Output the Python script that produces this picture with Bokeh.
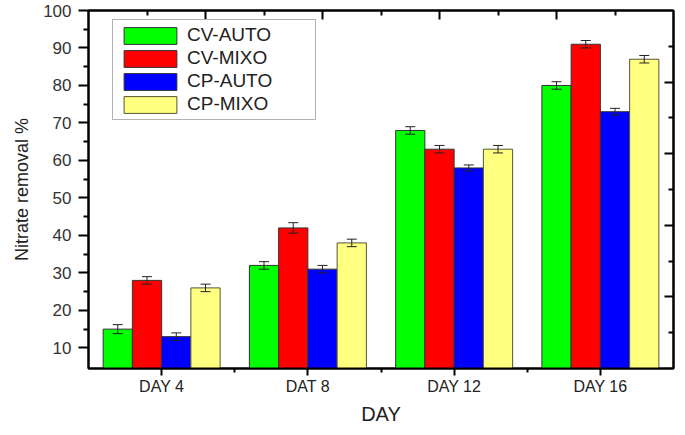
import numpy as np
from bokeh.plotting import figure
from bokeh.models import (ColumnDataSource, Range1d, LinearAxis, FixedTicker,
                          Whisker, TeeHead, Legend, LegendItem)
from bokeh.embed import file_html
from bokeh.resources import INLINE

# ---- data ----
days = ["DAY 4", "DAT 8", "DAY 12", "DAY 16"]
series_names = ["CV-AUTO", "CV-MIXO", "CP-AUTO", "CP-MIXO"]
cv_auto = [15, 32, 68, 80]
cv_mixo = [28, 42, 63, 91]
cp_auto = [13, 31, 58, 73]
cp_mixo = [26, 38, 63, 87]
cv_auto_err = [1.2, 1.0, 1.0, 1.0]
cv_mixo_err = [1.0, 1.4, 1.0, 1.0]
cp_auto_err = [1.0, 1.0, 0.8, 0.9]
cp_mixo_err = [1.0, 1.0, 1.0, 1.0]
y_ticks = [10, 20, 30, 40, 50, 60, 70, 80, 90, 100]
y_minor_ticks = [15, 25, 35, 45, 55, 65, 75, 85, 95]

values = [cv_auto, cv_mixo, cp_auto, cp_mixo]
errors = [cv_auto_err, cv_mixo_err, cp_auto_err, cp_mixo_err]
colors = ["#00ff00", "#ff0000", "#0000ff", "#ffff80"]
outlines = ["#333333", "#333333", "#333333", "#555533"]
offsets = [-0.3, -0.1, 0.1, 0.3]

FONT = "Liberation Sans"
TXT = "#222222"

p = figure(width=677, height=427,
           x_range=Range1d(0.5, 4.5), y_range=Range1d(4.5, 100),
           output_backend="svg", toolbar_location=None,
           min_border_left=88, min_border_right=4,
           min_border_top=10, min_border_bottom=58,
           background_fill_color="white", border_fill_color="white")
p.xgrid.visible = False
p.ygrid.visible = False
p.outline_line_color = "black"
p.outline_line_width = 2

idx = np.arange(1, len(days) + 1)

items = []
for name, vals, errs, col, lc, off in zip(series_names, values, errors, colors, outlines, offsets):
    v = np.array(vals, dtype=float)
    e = np.array(errs, dtype=float)
    src = ColumnDataSource(dict(x=idx + off, top=v, upper=v + e, lower=v - e))
    r = p.vbar(x="x", top="top", bottom=0, width=0.2, source=src,
               fill_color=col, line_color=lc, line_width=1)
    items.append(LegendItem(label=name, renderers=[r]))
    w = Whisker(source=src, base="x", upper="upper", lower="lower",
                line_color="#222222", line_width=1, level="annotation",
                upper_head=TeeHead(size=10, line_color="#222222", line_width=1),
                lower_head=TeeHead(size=10, line_color="#222222", line_width=1))
    p.add_layout(w)

legend = Legend(items=items, location=(24, 248),
                glyph_width=66, glyph_height=21, label_height=21,
                label_width=124, label_standoff=4, spacing=1, padding=4,
                margin=0,
                label_text_font=FONT, label_text_font_size="19px",
                label_text_color=TXT,
                border_line_color="#666666", border_line_width=1,
                background_fill_color="white", background_fill_alpha=1)
p.add_layout(legend)

# ---- bottom axis ----
xa = p.xaxis[0]
xa.ticker = FixedTicker(ticks=list(idx), minor_ticks=[1.5, 2.5, 3.5])
xa.major_label_overrides = {int(i): d for i, d in zip(idx, days)}
xa.axis_label = "DAY"
xa.axis_label_text_font = FONT
xa.axis_label_text_font_size = "20px"
xa.axis_label_text_font_style = "normal"
xa.axis_label_text_color = TXT
xa.axis_label_standoff = 5
xa.major_label_text_font = FONT
xa.major_label_text_font_size = "16px"
xa.major_label_text_color = TXT
xa.major_label_standoff = 2
xa.major_tick_out = 7
xa.major_tick_in = 0
xa.minor_tick_out = 4
xa.minor_tick_in = 0
xa.axis_line_width = 2
xa.major_tick_line_width = 2
xa.minor_tick_line_width = 2

# ---- left axis ----
ya = p.yaxis[0]
ya.ticker = FixedTicker(ticks=y_ticks, minor_ticks=y_minor_ticks)
ya.axis_label = "Nitrate removal %"
ya.axis_label_text_font = FONT
ya.axis_label_text_font_size = "18px"
ya.axis_label_text_font_style = "normal"
ya.axis_label_text_color = TXT
ya.axis_label_standoff = 8
ya.major_label_text_font = FONT
ya.major_label_text_font_size = "17px"
ya.major_label_text_color = "#333333"
ya.major_label_standoff = 7
ya.major_tick_out = 10
ya.major_tick_in = 0
ya.minor_tick_out = 5
ya.minor_tick_in = 0
ya.axis_line_width = 2
ya.major_tick_line_width = 2
ya.minor_tick_line_width = 2

# ---- mirrored top / right axes (own 0-10 scales, no labels) ----
p.extra_x_ranges = {"top": Range1d(0, 10)}
p.extra_y_ranges = {"right": Range1d(0, 10)}
for name, place in (("top", "above"), ("right", "right")):
    kw = {"x_range_name": name} if place == "above" else {"y_range_name": name}
    ax = LinearAxis(ticker=FixedTicker(ticks=[2, 4, 6, 8], minor_ticks=[1, 3, 5, 7, 9]), **kw)
    ax.major_label_overrides = {2: "", 4: "", 6: "", 8: ""}
    ax.major_label_text_font_size = "5px"
    ax.major_label_standoff = 0
    ax.major_tick_in = 9
    ax.major_tick_out = 0
    ax.minor_tick_in = 5
    ax.minor_tick_out = 0
    ax.axis_line_width = 2
    ax.major_tick_line_width = 2
    ax.minor_tick_line_width = 2
    p.add_layout(ax, place)

open("out.html", "w").write(file_html(p, INLINE))
